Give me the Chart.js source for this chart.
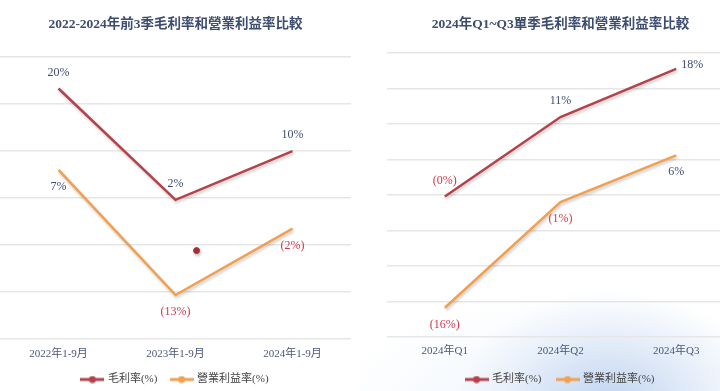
<!DOCTYPE html>
<html>
<head>
<meta charset="utf-8">
<script src="https://cdn.jsdelivr.net/npm/chart.js@4.4.1/dist/chart.umd.min.js"></script>
<style>
  html, body { margin: 0; padding: 0; width: 720px; height: 391px; overflow: hidden; background: #fff; }
  #bg { position: absolute; left: 360px; top: 0; width: 360px; height: 391px;
        background:
          radial-gradient(ellipse 150px 110px at 250px 400px, rgba(140,175,225,0.45), rgba(190,210,240,0.2) 70%, rgba(255,255,255,0) 100%),
          radial-gradient(ellipse 260px 130px at 220px 420px, rgba(200,220,245,0.35), rgba(255,255,255,0) 100%); }
  #wrapL { position: absolute; left: 0; top: 0; width: 351px; height: 395px; }
  #wrapR { position: absolute; left: 387px; top: 0; width: 347px; height: 395px; }
</style>
</head>
<body>
<div id="bg"></div>
<div id="wrapL"><canvas id="chartL"></canvas></div>
<div id="wrapR"><canvas id="chartR"></canvas></div>
<script>
// left chart: 2022-2024 前3季
const periodsL = ['2022年1-9月', '2023年1-9月', '2024年1-9月'];
const grossL = [20, 2.2, 10];
const opL = [7, -13, -2.4];
const strayDot = [{x: 1.18, y: -5.9}];

// right chart: 2024 單季
const quartersR = ['2024年Q1', '2024年Q2', '2024年Q3'];
const grossR = [-0.2, 11, 17.8];
const opR = [-15.9, -1, 5.6];

const seriesNames = ['毛利率(%)', '營業利益率(%)'];

const RED = '#b5424b';
const ORANGE = '#f0a04e';
const NAVY = '#3d4d70';
const NEG = '#d2364c';
const FONT = '"Liberation Serif", "Noto Sans CJK TC", serif';

function legendIcon(color) {
  const c = document.createElement('canvas');
  c.width = 24; c.height = 8;
  const g = c.getContext('2d');
  g.strokeStyle = color;
  g.lineWidth = 3;
  g.beginPath(); g.moveTo(0, 4); g.lineTo(24, 4); g.stroke();
  g.fillStyle = color;
  g.beginPath(); g.arc(12, 4, 3.5, 0, Math.PI * 2); g.fill();
  return c;
}
const icons = [legendIcon(RED), legendIcon(ORANGE)];

function fmt(v) {
  const r = Math.round(Math.abs(v));
  return v < 0 ? '(' + r + '%)' : r + '%';
}

// draws the value labels beside each point
const pointLabels = {
  id: 'pointLabels',
  afterDatasetsDraw(chart, args, opts) {
    const ctx = chart.ctx;
    ctx.save();
    ctx.font = '12px ' + FONT;
    ctx.textBaseline = 'middle';
    (opts.place || []).forEach((places, di) => {
      const meta = chart.getDatasetMeta(di);
      const data = chart.data.datasets[di].data;
      meta.data.forEach((pt, i) => {
        const v = data[i];
        const where = places[i];
        ctx.fillStyle = v < 0 ? NEG : NAVY;
        let x = pt.x, y = pt.y;
        if (where === 'above') { ctx.textAlign = 'center'; y -= 16; }
        else if (where === 'below') { ctx.textAlign = 'center'; y += 17; }
        else if (where === 'right') { ctx.textAlign = 'left'; x += 5; y -= 4; }
        ctx.fillText(fmt(v), x, y);
      });
    });
    ctx.restore();
  }
};

// soft shadow under the lines
const lineShadow = {
  id: 'lineShadow',
  beforeDatasetDraw(chart) {
    const ctx = chart.ctx;
    ctx.save();
    ctx.shadowColor = 'rgba(0,0,0,0.22)';
    ctx.shadowBlur = 3;
    ctx.shadowOffsetX = 1;
    ctx.shadowOffsetY = 2;
  },
  afterDatasetDraw(chart) {
    chart.ctx.restore();
  }
};

function makeChart(id, title, labels, gross, op, yMin, yMax, step, pads, place, extra) {
  const datasets = [
    { label: seriesNames[0], data: gross, borderColor: RED, backgroundColor: RED, borderWidth: 2.5, pointRadius: 0, tension: 0 },
    { label: seriesNames[1], data: op, borderColor: ORANGE, backgroundColor: ORANGE, borderWidth: 2.5, pointRadius: 0, tension: 0 }
  ];
  if (extra) datasets.push(extra);
  return new Chart(document.getElementById(id), {
    type: 'line',
    data: { labels: labels, datasets: datasets },
    plugins: [lineShadow, pointLabels],
    options: {
      responsive: true,
      maintainAspectRatio: false,
      animation: false,
      layout: { padding: 0, autoPadding: false },
      plugins: {
        tooltip: { enabled: false },
        title: {
          display: true,
          text: title,
          color: NAVY,
          font: { family: FONT, size: 13.5 },
          padding: { top: pads.titleTop, bottom: pads.titleBottom }
        },
        legend: {
          position: 'bottom',
          labels: {
            color: '#444',
            font: { family: FONT, size: 11 },
            usePointStyle: true,
            pointStyleWidth: 20,
            padding: pads.legend,
            filter: (item) => item.datasetIndex < 2,
            generateLabels: (chart) => {
              const items = Chart.defaults.plugins.legend.labels.generateLabels(chart);
              items.forEach((it) => {
                if (it.datasetIndex < 2) it.pointStyle = icons[it.datasetIndex];
                if (it.datasetIndex === 0) it.text += pads.gap;
              });
              return items;
            }
          }
        },
        pointLabels: { place: place }
      },
      scales: {
        x: {
          offset: true,
          grid: { display: false },
          border: { display: false },
          ticks: { color: '#4a5878', font: { family: FONT, size: 11 }, padding: pads.tick, maxRotation: 0 }
        },
        xd: { type: 'linear', display: false, min: -0.5, max: 2.5 },
        y: {
          min: yMin, max: yMax,
          ticks: { display: false, stepSize: step },
          grid: { color: '#e6e6e6', lineWidth: 1.5, drawTicks: false },
          border: { display: false }
        }
      }
    }
  });
}

makeChart('chartL', '2022-2024年前3季毛利率和營業利益率比較', periodsL, grossL, opL, -20, 25, 7.5,
  { titleTop: 16, titleBottom: 25, tick: 1, legend: 12, gap: '\u2009' },
  [['above', 'above', 'above'], ['below', 'below', 'below']],
  { type: 'scatter', data: strayDot, xAxisID: 'xd', pointRadius: 3, backgroundColor: '#a8323c', borderColor: '#a8323c', showLine: false }
);

makeChart('chartR', '2024年Q1~Q3單季毛利率和營業利益率比較', quartersR, grossR, opR, -20, 20, 5,
  { titleTop: 16, titleBottom: 21, tick: 0, legend: 16, gap: '' },
  [['above', 'above', 'right'], ['below', 'below', 'below']],
  null
);
</script>
</body>
</html>
